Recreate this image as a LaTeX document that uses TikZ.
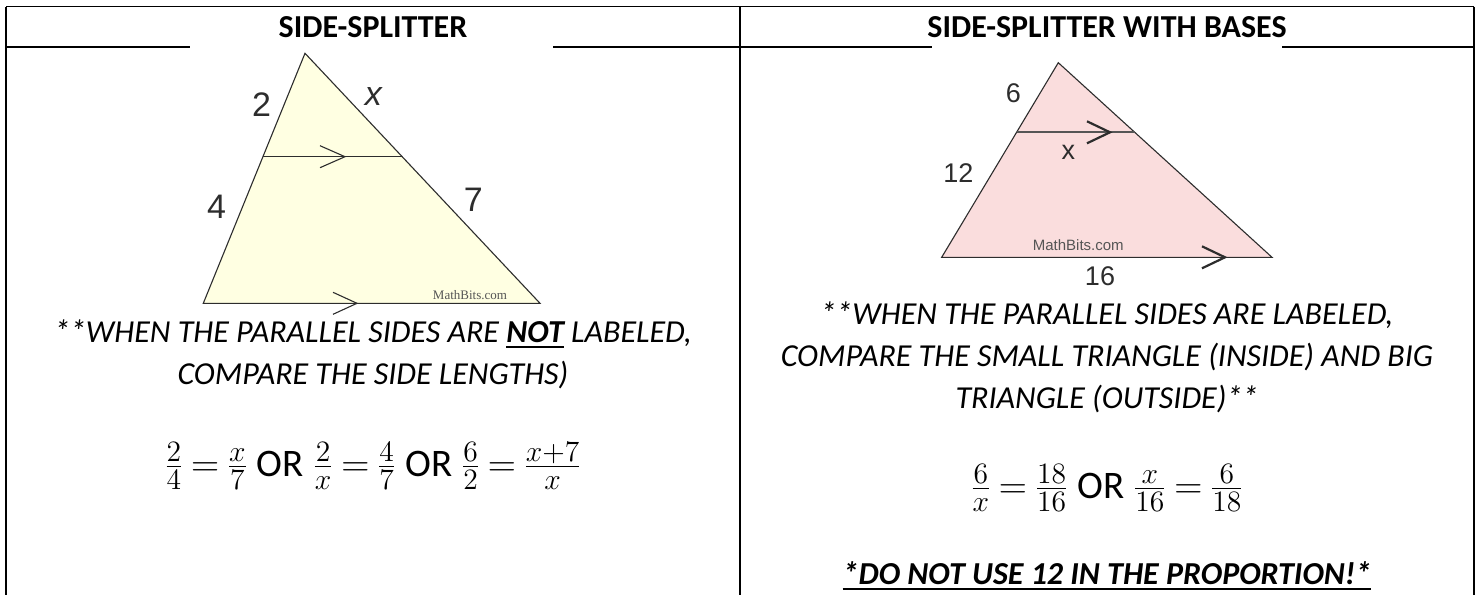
\RequirePackage{fix-cm}
\documentclass[tikz,border=0pt]{standalone}
\usepackage{fontspec}
\setmainfont{Carlito}
\newfontfamily\labelfont{Liberation Sans}
\newfontfamily\smallserif{Liberation Serif}
\usetikzlibrary{calc}

\definecolor{yellowfill}{RGB}{255,255,226}
\definecolor{pinkfill}{RGB}{250,221,221}
\definecolor{inkgray}{RGB}{45,45,45}
\definecolor{markgray}{RGB}{85,85,85}

\DeclareMathSizes{19.5}{19.5}{14.8}{11}
\newcommand{\thickul}[1]{\setbox0\hbox{#1}\rlap{\rule[-2.8pt]{\wd0}{1.1pt}}\box0\relax}
\newcommand{\eqspacing}{\thickmuskip=3.5mu\relax\medmuskip=3mu\relax}

\begin{document}
\begin{tikzpicture}[
    x=0.5pt, y=-0.5pt,
    grid/.style={line width=0.85pt, black},
    head/.style={font=\fontsize{16}{19}\selectfont\bfseries},
    note/.style={font=\fontsize{16}{21}\selectfont\itshape, align=center},
    eqn/.style={font=\fontsize{19.5}{23}\selectfont\eqspacing},
    tri/.style={draw=inkgray, line width=0.55pt},
    chev/.style={draw=inkgray, line width=0.55pt},
    lbl/.style={font=\fontsize{17}{20}\selectfont\labelfont, text=inkgray},
    rlbl/.style={font=\fontsize{13.5}{16}\selectfont\labelfont, text=inkgray},
  ]
  \useasboundingbox (0,0) rectangle (1479,595);

  % ============ Table ============
  \draw[grid] (6,6.5) -- (1474,6.5);
  \draw[grid] (6,47) -- (1474,47);
  \draw[grid] (6,6.5) -- (6,595);
  \draw[grid] (740,6.5) -- (740,595);
  \draw[grid] (1474,6.5) -- (1474,595);

  \node[head] (lhead) at (373,27) {SIDE-SPLITTER};
  \node[head] (rhead) at (1107,27) {SIDE-SPLITTER WITH BASES};

  % pictures sit over the header rule
  \fill[white] (190,44) rectangle (553,318);
  \fill[white] (932,44) rectangle (1282,290);

  % ============ Left triangle ============
  \coordinate (lA) at (305,53.3);
  \coordinate (lB) at (203.3,303.3);
  \coordinate (lC) at (540,303.3);
  \filldraw[tri, fill=yellowfill] (lA) -- (lB) -- (lC) -- cycle;
  \coordinate (lP) at ($(lA)!0.4136!(lB)$);
  \coordinate (lQ) at ($(lA)!0.4136!(lC)$);
  \draw[tri] (lP) -- (lQ);

  \coordinate (lt1) at (345,156.7);
  \draw[chev] ($(lt1)+(-25,-11)$) -- (lt1) -- ($(lt1)+(-25,11)$);
  \coordinate (lt2) at (357,303.3);
  \draw[chev] ($(lt2)+(-24,-11)$) -- (lt2) -- ($(lt2)+(-24,11)$);

  \node[lbl] (l2) at (261.7,105) {2};
  \node[lbl] (lx) at (373.3,96.7) {\itshape x};
  \node[lbl] (l4) at (216.7,206.7) {4};
  \node[lbl] (l7) at (473.3,200) {7};
  \node[font=\fontsize{6.5}{8}\selectfont\smallserif, text=markgray] (lmb) at (470,295) {MathBits.com};

  % ============ Right triangle ============
  \coordinate (rA) at (1058.3,62.7);
  \coordinate (rB) at (941.7,257.3);
  \coordinate (rC) at (1272,257.3);
  \filldraw[tri, fill=pinkfill] (rA) -- (rB) -- (rC) -- cycle;
  \coordinate (rP) at ($(rA)!0.3577!(rB)$);
  \coordinate (rQ) at ($(rA)!0.3577!(rC)$);
  \draw[tri, draw=markgray, line width=0.9pt] (rP) -- (rQ);

  \coordinate (rt1) at (1110,132.3);
  \draw[chev, line width=1.1pt] ($(rt1)+(-23,-11)$) -- (rt1) -- ($(rt1)+(-23,11)$);
  \coordinate (rt2) at (1225,257.3);
  \draw[chev, line width=1.1pt] ($(rt2)+(-23,-11)$) -- (rt2) -- ($(rt2)+(-23,11)$);

  \node[rlbl] (r6) at (1013.3,93.3) {6};
  \node[rlbl] (rx) at (1068.3,152.7) {x};
  \node[rlbl] (r12) at (958.3,173.3) {12};
  \node[rlbl] (r16) at (1100,276.7) {16};
  \node[font=\fontsize{7.5}{9}\selectfont\labelfont, text=markgray] (rmb) at (1078.3,245) {MathBits.com};

  % ============ Notes ============
  \node[note] (lnote) at (373,354) {**WHEN THE PARALLEL SIDES ARE \thickul{\bfseries NOT} LABELED,\\
    COMPARE THE SIDE LENGTHS)};
  \node[eqn] (leq) at (373,466) {$\frac{2}{4}=\frac{x}{7}$ OR $\frac{2}{x}=\frac{4}{7}$ OR $\frac{6}{2}=\frac{x+7}{x}$};

  \node[note] (rnote) at (1107,357) {**WHEN THE PARALLEL SIDES ARE LABELED,\\
    COMPARE THE SMALL TRIANGLE (INSIDE) AND BIG\\
    TRIANGLE (OUTSIDE)**};
  \node[eqn] (req) at (1107,488) {$\frac{6}{x}=\frac{18}{16}$ OR $\frac{x}{16}=\frac{6}{18}$};
  \node[note, font=\fontsize{16}{21}\selectfont\bfseries\itshape] (rwarn) at (1107,576)
    {\thickul{*DO NOT USE 12 IN THE PROPORTION!*}};

\end{tikzpicture}
\end{document}
